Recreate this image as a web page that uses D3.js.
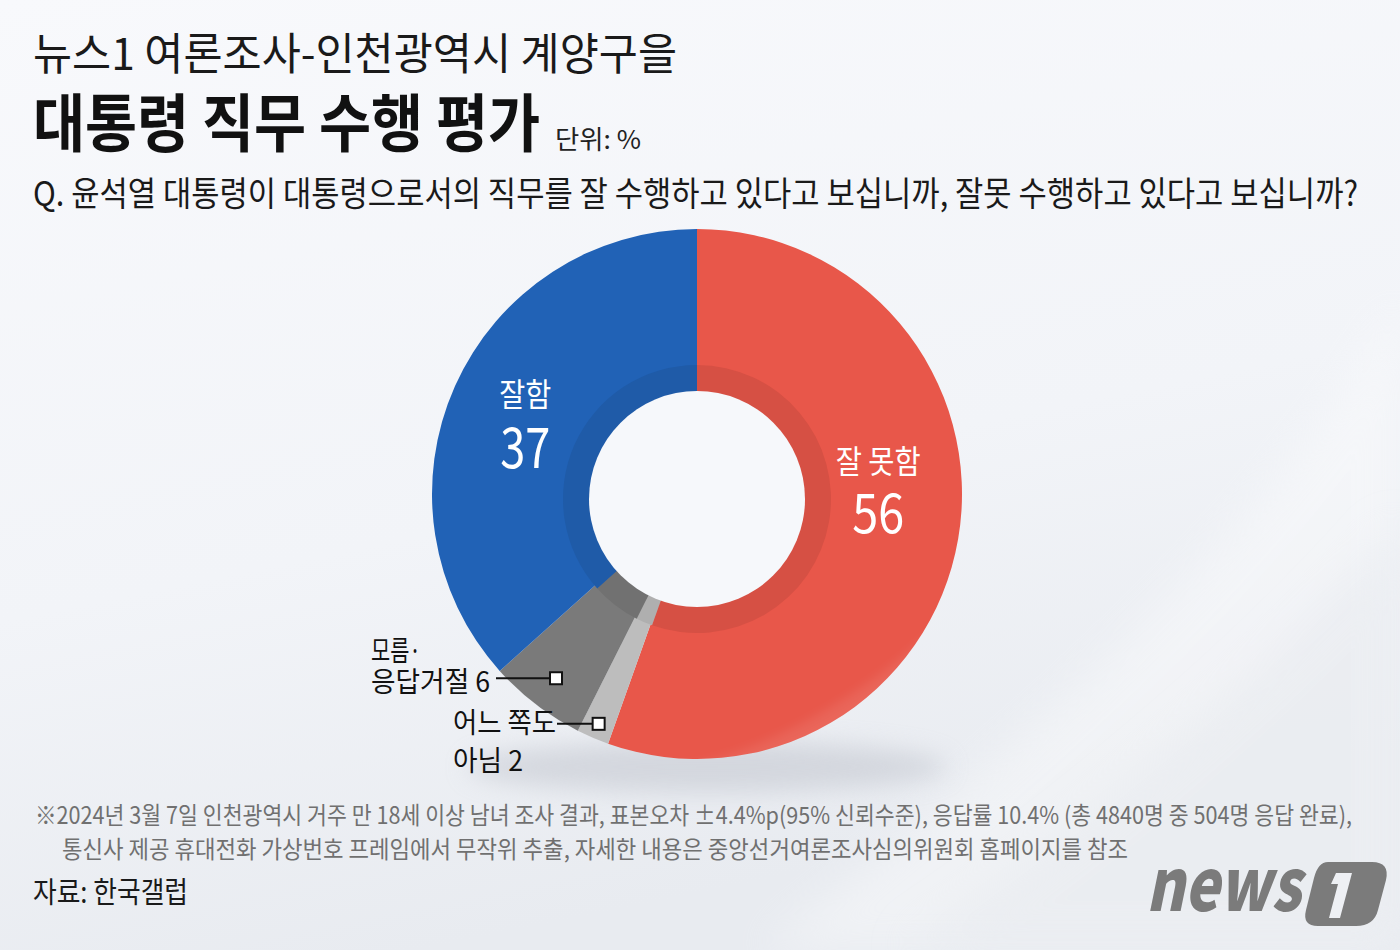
<!DOCTYPE html>
<html><head><meta charset="utf-8">
<script src="https://cdn.jsdelivr.net/npm/d3@7"></script>
<style>html,body{margin:0;padding:0;background:#f5f7fa;}svg{display:block;}</style>
</head><body>
<script>
// ---- data ----
const categories = ["잘 못함", "어느 쪽도 아님", "모름·응답거절", "잘함"];
const values = [56, 2, 6, 37];
const sliceColors = ["#e8574a", "#bdbdbd", "#7a7a7a", "#2162b6"];

const W = 1400, H = 950;
const FONT = "'Noto Sans CJK KR','Noto Sans',sans-serif";
const svg = d3.select("body").append("svg").attr("width", W).attr("height", H);
const defs = svg.append("defs");

const bg = defs.append("linearGradient").attr("id","bg").attr("x1",0).attr("y1",0).attr("x2",0.3).attr("y2",1);
bg.append("stop").attr("offset","0%").attr("stop-color","#f8f9fc");
bg.append("stop").attr("offset","60%").attr("stop-color","#f2f4f8");
bg.append("stop").attr("offset","100%").attr("stop-color","#e8ebf0");
svg.append("rect").attr("width",W).attr("height",H).attr("fill","url(#bg)");

const soft = defs.append("filter").attr("id","soft").attr("x","-20%").attr("y","-20%").attr("width","140%").attr("height","140%");
soft.append("feGaussianBlur").attr("stdDeviation",20);
// subtle swoosh
svg.append("path").attr("d","M760,950 C1000,760 1250,560 1400,300 L1400,950 Z").attr("fill","#ffffff").attr("opacity",0.35).attr("filter","url(#soft)");
svg.append("path").attr("d","M900,950 C1100,820 1300,640 1400,520 L1400,950 Z").attr("fill","#e6e9ee").attr("opacity",0.5).attr("filter","url(#soft)");

const blur = defs.append("filter").attr("id","blur").attr("x","-50%").attr("y","-50%").attr("width","200%").attr("height","200%");
blur.append("feGaussianBlur").attr("stdDeviation",12);
const blur2 = defs.append("filter").attr("id","blur2").attr("x","-50%").attr("y","-50%").attr("width","200%").attr("height","200%");
blur2.append("feGaussianBlur").attr("stdDeviation",6);

const cx = 697, cy = 494, R = 265;
// shadow under donut
svg.append("ellipse").attr("cx",cx+10).attr("cy",cy+R+8).attr("rx",240).attr("ry",26)
  .attr("fill","#c4c8d0").attr("opacity",0.6).attr("filter","url(#blur)");

const data = categories.map((c,i)=>({cat:c, value:values[i], color:sliceColors[i]}));
const pie = d3.pie().sort(null).value(d=>d.value);
const arcs = pie(data);

const g = svg.append("g").attr("transform",`translate(${cx},${cy})`);
const arcOuter = d3.arc().innerRadius(0).outerRadius(R);
g.selectAll("path.slice").data(arcs).join("path").attr("class","slice")
  .attr("d",arcOuter).attr("fill",d=>d.data.color);

// gloss on bottom-right
const gloss = defs.append("clipPath").attr("id","donutClip");
gloss.append("circle").attr("r",R);
g.append("g").attr("clip-path","url(#donutClip)").append("path")
  .attr("d","M-10,272 C80,255 200,185 275,95 L320,320 L-10,320 Z")
  .attr("fill","#ffffff").attr("opacity",0.09).attr("filter","url(#blur2)");

// inner darker ring + hole (slightly offset)
const cy2 = 499;
const g2 = svg.append("g").attr("transform",`translate(${cx},${cy2})`);
const arcRing = d3.arc().innerRadius(0).outerRadius(134);
g2.selectAll("path.ring").data(arcs).join("path").attr("class","ring")
  .attr("d",arcRing).attr("fill",d=>d3.color(d.data.color).darker(0.22));
g2.append("circle").attr("r",108).attr("fill","#f6f8fb");

function txt(x,y,s,size,opts={}){
  const t = svg.append("text").attr("x",x).attr("y",y).text(s)
    .attr("font-family",FONT).attr("font-size",size)
    .attr("fill",opts.fill||"#111").attr("font-weight",opts.weight||400);
  if(opts.anchor) t.attr("text-anchor",opts.anchor);
  if(opts.len) t.attr("textLength",opts.len).attr("lengthAdjust","spacingAndGlyphs");
  if(opts.style) t.attr("font-style",opts.style);
  return t;
}

// titles
txt(33,70,"뉴스1 여론조사-인천광역시 계양구을",44,{len:644,fill:"#1a1a1a"});
txt(33,146,"대통령 직무 수행 평가",63,{len:507,weight:700,fill:"#111"});
txt(555,149,"단위: %",26,{len:86,fill:"#222"});
txt(33,206,"Q. 윤석열 대통령이 대통령으로서의 직무를 잘 수행하고 있다고 보십니까, 잘못 수행하고 있다고 보십니까?",34,{len:1325,fill:"#1a1a1a"});

// in-slice labels
const arcLab = d3.arc().innerRadius(186).outerRadius(186);
const cBlue = arcLab.centroid(arcs[3]);
const cRed = arcLab.centroid(arcs[0]);
txt(cx+cBlue[0]-2,406,categories[3],32,{anchor:"middle",fill:"#fff",len:52});
txt(cx+cBlue[0]-2,468,String(values[3]),56,{anchor:"middle",fill:"#fff",len:50});
txt(cx+cRed[0]-2,473,categories[0],32,{anchor:"middle",fill:"#fff",len:85});
txt(cx+cRed[0]-2,533,String(values[0]),54,{anchor:"middle",fill:"#fff",len:52});

// leader labels
const arcA = d3.arc().innerRadius(232).outerRadius(232);
const arcB = d3.arc().innerRadius(250).outerRadius(250);
const pA = arcA.centroid(arcs[2]);
const pB = arcB.centroid(arcs[1]);
const sqA = [cx+pA[0], cy+pA[1]];
const sqB = [cx+pB[0], cy+pB[1]];
svg.append("line").attr("x1",496).attr("y1",sqA[1]).attr("x2",sqA[0]).attr("y2",sqA[1]).attr("stroke","#111").attr("stroke-width",2);
svg.append("rect").attr("x",sqA[0]-6).attr("y",sqA[1]-6).attr("width",12).attr("height",12).attr("fill","#fff").attr("stroke","#111").attr("stroke-width",2);
svg.append("line").attr("x1",557).attr("y1",sqB[1]).attr("x2",sqB[0]).attr("y2",sqB[1]).attr("stroke","#111").attr("stroke-width",2);
svg.append("rect").attr("x",sqB[0]-6).attr("y",sqB[1]-6).attr("width",12).attr("height",12).attr("fill","#fff").attr("stroke","#111").attr("stroke-width",2);

txt(371,661,"모름·",28,{len:50,fill:"#111"});
txt(371,692,"응답거절 "+values[2],28,{len:119,fill:"#111"});
txt(453,733,"어느 쪽도",28,{len:103,fill:"#111"});
txt(453,771,"아님 "+values[1],28,{len:70,fill:"#111"});

// footnotes
txt(35,824,"※2024년 3월 7일 인천광역시 거주 만 18세 이상 남녀 조사 결과, 표본오차 ±4.4%p(95% 신뢰수준), 응답률 10.4% (총 4840명 중 504명 응답 완료),",24,{len:1317,fill:"#707070"});
txt(62,858,"통신사 제공 휴대전화 가상번호 프레임에서 무작위 추출, 자세한 내용은 중앙선거여론조사심의위원회 홈페이지를 참조",24,{len:1066,fill:"#707070"});
txt(33,903,"자료: 한국갤럽",29,{len:155,fill:"#1a1a1a"});

// news1 logo
txt(1146,911,"news",72,{len:155,weight:900,style:"italic",fill:"#7b7b7b"});
svg.append("path")
  .attr("d","M1328,862 L1372,862 Q1390,862 1386,880 L1378,910 Q1374,926 1356,926 L1318,926 Q1302,926 1306,910 L1314,878 Q1318,862 1328,862 Z")
  .attr("fill","#7b7b7b");
svg.append("path")
  .attr("d","M1336,873 L1352,873 L1340,918 L1329,918 L1338,884 L1331,884 Z")
  .attr("fill","#eef0f4");
</script>
</body></html>
